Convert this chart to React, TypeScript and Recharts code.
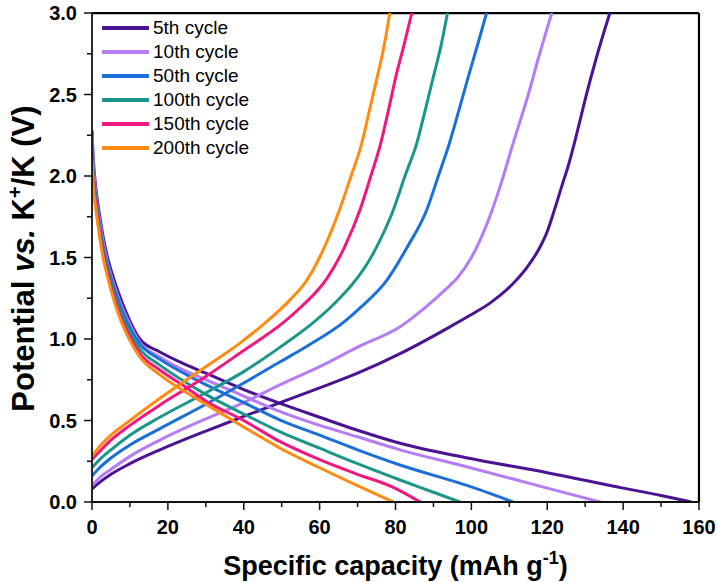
import { Label, Legend, Line, LineChart, ReferenceLine, XAxis, YAxis } from "recharts"

// capacity (mAh/g), potential (V) pairs
const cycleNames = ["5th cycle", "10th cycle", "50th cycle", "100th cycle", "150th cycle", "200th cycle"]
const cycleColors = ["#4b1391", "#b57cf6", "#1b6fd9", "#1a968b", "#f0177f", "#ff8b12"]

const discharge5 = [[0, 2.28], [0.3, 2.12], [1, 1.93], [2, 1.76], [3, 1.62], [4, 1.51], [6, 1.35], [8, 1.22], [10, 1.11], [12.6, 1.0], [17.9, 0.92], [25, 0.84], [30, 0.79], [40, 0.69], [49.6, 0.605], [60, 0.52], [70, 0.44], [81.2, 0.36], [99, 0.27], [120, 0.18], [140, 0.085], [150, 0.04], [158, 0]]
const discharge10 = [[0, 2.25], [0.3, 2.09], [1, 1.9], [2, 1.73], [3, 1.59], [4, 1.48], [6, 1.32], [8, 1.19], [10, 1.09], [12.6, 0.98], [17.9, 0.89], [25, 0.8], [30, 0.75], [40, 0.65], [49.6, 0.554], [60, 0.47], [70, 0.4], [81.2, 0.32], [99, 0.215], [120, 0.085], [134, 0]]
const discharge50 = [[0, 2.2], [0.3, 2.04], [1, 1.87], [2, 1.7], [3, 1.56], [4, 1.46], [6, 1.3], [8, 1.17], [10, 1.07], [12.6, 0.97], [17.9, 0.875], [25, 0.78], [30, 0.72], [40, 0.61], [49.6, 0.503], [60, 0.41], [70, 0.32], [81.2, 0.227], [99, 0.1], [111, 0]]
const discharge100 = [[0, 2.17], [0.3, 2.01], [1, 1.85], [2, 1.68], [3, 1.54], [4, 1.44], [6, 1.27], [8, 1.14], [10, 1.04], [12.6, 0.94], [17.9, 0.84], [25, 0.73], [30, 0.66], [40, 0.54], [49.6, 0.43], [60, 0.33], [70, 0.235], [81.2, 0.135], [90, 0.06], [97, 0]]
const discharge150 = [[0, 2.13], [0.3, 1.98], [1, 1.82], [2, 1.65], [3, 1.51], [4, 1.41], [6, 1.24], [8, 1.11], [10, 1.01], [12.6, 0.91], [17.9, 0.81], [25, 0.7], [30, 0.62], [40, 0.5], [49.6, 0.37], [60, 0.26], [70, 0.17], [79.4, 0.09], [86.5, 0]]
const discharge200 = [[0, 2.1], [0.3, 1.95], [1, 1.8], [2, 1.63], [3, 1.49], [4, 1.39], [6, 1.22], [8, 1.09], [10, 0.99], [12.6, 0.89], [17.9, 0.78], [25, 0.67], [30, 0.6], [40, 0.46], [49.6, 0.33], [60, 0.21], [72.4, 0.074], [79.5, 0]]

const charge5 = [[0, 0.08], [2, 0.12], [5, 0.17], [10, 0.235], [17.9, 0.32], [30, 0.435], [40, 0.525], [49.6, 0.61], [60, 0.7], [70, 0.79], [81.2, 0.91], [94, 1.07], [100, 1.15], [104.9, 1.22], [111, 1.34], [115, 1.45], [118, 1.56], [120, 1.66], [122, 1.8], [124, 1.95], [125.5, 2.06], [128, 2.28], [130, 2.47], [133, 2.73], [136.5, 3.0]]
const charge10 = [[0, 0.1], [2, 0.15], [5, 0.2], [10, 0.28], [17.9, 0.38], [30, 0.51], [40, 0.61], [49.6, 0.72], [60, 0.83], [70, 0.95], [81.2, 1.075], [88.2, 1.2], [93, 1.3], [96.5, 1.38], [100, 1.5], [104, 1.7], [107.5, 1.93], [111, 2.2], [115, 2.5], [118, 2.75], [121.2, 3.0]]
const charge50 = [[0, 0.16], [2, 0.21], [5, 0.27], [10, 0.35], [17.9, 0.45], [30, 0.6], [40, 0.73], [49.6, 0.86], [57, 0.96], [66.7, 1.11], [71.1, 1.2], [77.7, 1.36], [83, 1.56], [88.2, 1.79], [91.3, 2.0], [94.2, 2.2], [96.8, 2.41], [99.2, 2.61], [101.7, 2.81], [104, 3.0]]
const charge100 = [[0, 0.21], [2, 0.26], [5, 0.32], [10, 0.41], [17.9, 0.52], [30, 0.67], [40, 0.8], [49.6, 0.95], [58.8, 1.11], [62.7, 1.19], [69.8, 1.37], [72.5, 1.46], [76, 1.61], [79.4, 1.79], [82.5, 2.0], [85.6, 2.2], [88, 2.42], [90, 2.61], [92, 2.8], [93.7, 3.0]]
const charge150 = [[0, 0.26], [2, 0.31], [5, 0.38], [10, 0.47], [17.9, 0.595], [30, 0.77], [40, 0.93], [50.4, 1.1], [54.8, 1.19], [61.9, 1.37], [66.5, 1.56], [70.6, 1.79], [73.5, 2.0], [76.1, 2.2], [78.2, 2.41], [80.1, 2.61], [82.2, 2.8], [84.3, 3.0]]
const charge200 = [[0, 0.28], [2, 0.34], [5, 0.41], [10, 0.5], [17.9, 0.636], [30, 0.83], [39, 0.975], [45.2, 1.09], [52.2, 1.24], [56.6, 1.36], [61, 1.55], [65.2, 1.79], [68.3, 2.0], [71.1, 2.2], [73.2, 2.41], [75.2, 2.61], [77, 2.8], [78.5, 3.0]]

const dischargeCurves = [discharge5, discharge10, discharge50, discharge100, discharge150, discharge200]
const chargeCurves = [charge5, charge10, charge50, charge100, charge150, charge200]

const xTicks = [0, 10, 20, 30, 40, 50, 60, 70, 80, 90, 100, 110, 120, 130, 140, 150, 160]
const yTicks = [0, 0.25, 0.5, 0.75, 1, 1.25, 1.5, 1.75, 2, 2.25, 2.5, 2.75, 3]

const FONT = "'Liberation Sans', Arial, sans-serif"
const AXIS = "#111"

const toPoints = (pairs: number[][]) => pairs.map(([x, y]) => ({ x, y }))

function XTick({ x, y, payload }: any) {
  const major = payload.value % 20 === 0
  return (
    <g>
      <line x1={x} x2={x} y1={y} y2={y + (major ? 8 : 5)} stroke={AXIS} strokeWidth={1.5} />
      {major && (
        <text x={x} y={y + 32} textAnchor="middle" fontSize={20} fontWeight="bold" fontFamily={FONT} fill="#000">
          {payload.value}
        </text>
      )}
    </g>
  )
}

function YTick({ x, y, payload }: any) {
  const major = Math.round(payload.value * 100) % 50 === 0
  return (
    <g>
      <line x1={x} x2={x - (major ? 8 : 5)} y1={y} y2={y} stroke={AXIS} strokeWidth={1.5} />
      {major && (
        <text x={x - 15} y={y} dy="0.36em" textAnchor="end" fontSize={20} fontWeight="bold" fontFamily={FONT} fill="#000">
          {payload.value.toFixed(1)}
        </text>
      )}
    </g>
  )
}

function CycleLegend() {
  return (
    <div style={{ fontFamily: FONT, fontSize: 19, color: "#000" }}>
      {cycleNames.map((name, i) => (
        <div key={name} style={{ display: "flex", alignItems: "center", height: 24 }}>
          <svg width={47} height={6} style={{ display: "block" }}>
            <line x1={1} x2={46} y1={3} y2={3} stroke={cycleColors[i]} strokeWidth={4} strokeLinecap="round" />
          </svg>
          <span style={{ marginLeft: 4, lineHeight: "24px" }}>{name}</span>
        </div>
      ))}
    </div>
  )
}

export default function App() {
  return (
    <div style={{ position: "absolute", left: 0, top: 0, width: 717, height: 582, background: "#fff" }}>
      <LineChart width={717} height={582} margin={{ top: 13, right: 18, bottom: 0, left: 0 }}>
        <XAxis
          dataKey="x"
          type="number"
          domain={[0, 160]}
          ticks={xTicks}
          interval={0}
          height={80}
          tickSize={0}
          tickMargin={0}
          tickLine={false}
          tick={<XTick />}
          axisLine={{ stroke: AXIS, strokeWidth: 1.8 }}
          allowDataOverflow
        >
          <Label
            content={({ viewBox }: any) => (
              <text
                x={viewBox.x + viewBox.width / 2}
                y={viewBox.y + 73}
                textAnchor="middle"
                fontSize={27}
                fontWeight="bold"
                fontFamily={FONT}
                fill="#000"
              >
                Specific capacity (mAh g
                <tspan dy={-11} fontSize={18}>-1</tspan>
                <tspan dy={11}>)</tspan>
              </text>
            )}
          />
        </XAxis>
        <YAxis
          type="number"
          domain={[0, 3]}
          ticks={yTicks}
          interval={0}
          width={92}
          tickSize={0}
          tickMargin={0}
          tickLine={false}
          tick={<YTick />}
          axisLine={{ stroke: AXIS, strokeWidth: 1.8 }}
          allowDataOverflow
        >
          <Label
            content={({ viewBox }: any) => {
              const cy = viewBox.y + viewBox.height / 2 + 1
              return (
                <text
                  x={34}
                  y={cy}
                  transform={`rotate(-90, 34, ${cy})`}
                  textAnchor="middle"
                  fontSize={31}
                  fontWeight="bold"
                  fontFamily={FONT}
                  fill="#000"
                >
                  Potential <tspan fontStyle="italic">vs.</tspan> K
                  <tspan dy={-12} fontSize={20}>+</tspan>
                  <tspan dy={12}>/K (V)</tspan>
                </text>
              )
            }}
          />
        </YAxis>
        {/* top and right edges of the frame */}
        <ReferenceLine y={2.999} stroke="#000" strokeWidth={2.2} ifOverflow="visible" />
        <ReferenceLine x={159.99} stroke="#000" strokeWidth={2.2} ifOverflow="visible" />
        <Legend
          layout="vertical"
          align="center"
          verticalAlign="middle"
          wrapperStyle={{ left: 102, top: 16, width: 200, height: 150 }}
          content={() => <CycleLegend />}
        />
        {cycleNames.flatMap((name, i) => [
          <Line
            key={`d-${name}`}
            data={toPoints(dischargeCurves[i])}
            dataKey="y"
            name={name}
            type="monotone"
            stroke={cycleColors[i]}
            strokeWidth={3}
            dot={false}
            activeDot={false}
            isAnimationActive={false}
          />,
          <Line
            key={`c-${name}`}
            data={toPoints(chargeCurves[i])}
            dataKey="y"
            name={name}
            type="monotone"
            stroke={cycleColors[i]}
            strokeWidth={3}
            dot={false}
            activeDot={false}
            legendType="none"
            isAnimationActive={false}
          />,
        ])}
      </LineChart>
    </div>
  )
}
